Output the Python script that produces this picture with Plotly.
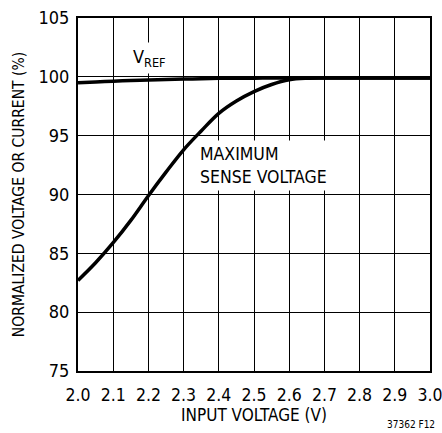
import plotly.graph_objects as go

# input voltage (V)
vin = [2.0, 2.05, 2.1, 2.15, 2.2, 2.25, 2.3, 2.35, 2.4, 2.45, 2.5, 2.55, 2.6, 2.65, 2.7,
       2.8, 2.9, 3.0]
# normalized reference voltage (%)
vref = [99.5, 99.57, 99.63, 99.69, 99.74, 99.78, 99.81, 99.84, 99.87, 99.88, 99.89, 99.9, 99.9,
        99.9, 99.9, 99.9, 99.9, 99.9]
# normalized maximum sense voltage (%)
sense = [82.7, 84.2, 85.9, 87.8, 89.9, 91.9, 93.8, 95.4, 96.9, 97.95, 98.75, 99.35, 99.75,
         99.88, 99.9, 99.9, 99.9, 99.9]

x_ticks = [2.0, 2.1, 2.2, 2.3, 2.4, 2.5, 2.6, 2.7, 2.8, 2.9, 3.0]
y_ticks = [75, 80, 85, 90, 95, 100, 105]

FONT = "DejaVu Sans Condensed, Liberation Sans Narrow, Arial Narrow, sans-serif"

fig = go.Figure()
fig.add_trace(go.Scatter(x=vin, y=vref, mode="lines", line=dict(color="black", width=3.5, shape="spline"),
                         showlegend=False))
fig.add_trace(go.Scatter(x=vin, y=sense, mode="lines", line=dict(color="black", width=3.5, shape="spline"),
                         showlegend=False))

fig.add_annotation(x=2.203, y=101.6, text="V<sub>REF</sub>", showarrow=False,
                   font=dict(family=FONT, size=18, color="black"), bgcolor="white", borderpad=3)
fig.add_annotation(x=2.336, y=92.45, xanchor="left", align="left",
                   text="MAXIMUM<br>SENSE VOLTAGE", showarrow=False,
                   font=dict(family=FONT, size=17.5, color="black"), bgcolor="white", borderpad=3)
fig.add_annotation(x=1.0, y=0, xref="paper", yref="paper", yshift=-61, xshift=7,
                   xanchor="right", yanchor="bottom", text="37362 F12", showarrow=False,
                   font=dict(family=FONT, size=10, color="black"))

fig.update_xaxes(range=[2.0, 3.0], tickvals=x_ticks, ticktext=[f"{v:.1f}" for v in x_ticks],
                 showgrid=True, gridcolor="black", gridwidth=1,
                 showline=True, linecolor="black", linewidth=2, mirror=True,
                 ticks="", zeroline=False, automargin=False, ticklabeloverflow="allow",
                 ticklabelstandoff=7,
                 title=dict(text="INPUT VOLTAGE (V)", font=dict(family=FONT, size=17), standoff=4),
                 tickfont=dict(family=FONT, size=17.5, color="black"))
fig.update_yaxes(range=[75, 105], tickvals=y_ticks,
                 showgrid=True, gridcolor="black", gridwidth=1,
                 showline=True, linecolor="black", linewidth=2, mirror=True,
                 ticks="", zeroline=False, automargin=False, ticklabelstandoff=3,
                 title=dict(text="NORMALIZED VOLTAGE OR CURRENT (%)", font=dict(family=FONT, size=15.5),
                            standoff=10),
                 tickfont=dict(family=FONT, size=18, color="black"))

fig.update_layout(width=442, height=433, margin=dict(l=78, r=12, t=18, b=62, autoexpand=False),
                  plot_bgcolor="white", paper_bgcolor="white",
                  font=dict(family=FONT, color="black"))

# drop the default page margin so the figure sits at the window's top-left corner
fig.write_html("out.html", config={"displayModeBar": False},
               post_script="document.body.style.margin='0';")
